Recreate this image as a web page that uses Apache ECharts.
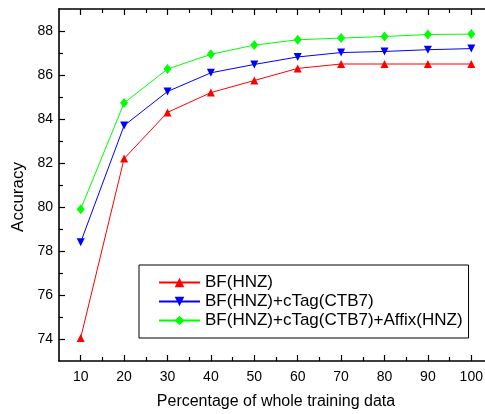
<!DOCTYPE html>
<html>
<head>
<meta charset="utf-8">
<script src="https://cdn.jsdelivr.net/npm/echarts@6/dist/echarts.min.js"></script>
<style>
  html, body { margin: 0; padding: 0; background: #fff; }
  #chart { width: 485px; height: 414px; }
</style>
</head>
<body>
<div id="chart"></div>
<script>
// x positions (percentage of training data)
const percentages = [10, 20, 30, 40, 50, 60, 70, 80, 90, 100];

// accuracy
const bfHnz = [74.05, 82.2, 84.3, 85.2, 85.75, 86.3, 86.5, 86.5, 86.5, 86.5];
const bfCtag = [78.4, 83.7, 85.25, 86.1, 86.48, 86.82, 87.02, 87.07, 87.15, 87.2];
const bfCtagAffix = [79.9, 84.73, 86.27, 86.94, 87.36, 87.6, 87.68, 87.75, 87.84, 87.86];

// tick positions
const xMajorTicks = [10, 20, 30, 40, 50, 60, 70, 80, 90, 100];
const xMinorTicks = [15, 25, 35, 45, 55, 65, 75, 85, 95];
const yMajorTicks = [74, 76, 78, 80, 82, 84, 86, 88];
const yMinorTicks = [75, 77, 79, 81, 83, 85, 87];

const FONT = "Liberation Sans, Arial, sans-serif";
const chart = echarts.init(document.getElementById("chart"));

function pairs(values) {
  return values.map((v, i) => [percentages[i], v]);
}

function tickAxis(position, values, length, opts) {
  return Object.assign({
    type: "value",
    position,
    min: position === "bottom" || position === "top" ? 5 : 73,
    max: position === "bottom" || position === "top" ? 105 : 89,
    axisLine: { show: false },
    splitLine: { show: false },
    axisLabel: { show: false },
    axisTick: { show: true, inside: true, length, customValues: values, lineStyle: { color: "#000", width: 1.2 } }
  }, opts || {});
}

function lineSeries(name, values, color, symbol, size) {
  return {
    name,
    type: "line",
    data: pairs(values),
    symbol,
    symbolSize: size,
    lineStyle: { color, width: 1 },
    itemStyle: { color },
    animation: false
  };
}

chart.setOption({
  backgroundColor: "#fff",
  // plot frame runs past the right edge of the picture
  grid: { left: 59, top: 9, width: 434, bottom: 53, outerBoundsMode: "none", containLabel: false },
  legend: {
    orient: "vertical",
    left: 139,
    top: 265,
    padding: [8, 6, 8, 19],
    itemWidth: 41,
    itemHeight: 12,
    itemGap: 0,
    borderColor: "#000",
    borderWidth: 1,
    textStyle: { fontFamily: FONT, fontSize: 17, color: "#000", lineHeight: 19 },
    data: ["BF(HNZ)", "BF(HNZ)+cTag(CTB7)", "BF(HNZ)+cTag(CTB7)+Affix(HNZ)"]
  },
  xAxis: [
    {
      type: "value",
      position: "bottom",
      min: 5,
      max: 105,
      name: "Percentage of whole training data",
      nameLocation: "middle",
      nameGap: 33,
      nameTextStyle: { fontFamily: FONT, fontSize: 16, color: "#000" },
      axisLine: { show: true, lineStyle: { color: "#000", width: 1.6 } },
      splitLine: { show: false },
      axisTick: { show: true, inside: true, length: 6, customValues: xMajorTicks, lineStyle: { color: "#000", width: 1.2 } },
      axisLabel: { fontFamily: FONT, fontSize: 14, color: "#000", margin: 9, customValues: xMajorTicks }
    },
    tickAxis("bottom", xMinorTicks, 4),
    tickAxis("top", xMajorTicks, 6, { axisLine: { show: true, lineStyle: { color: "#000", width: 1.6 } } }),
    tickAxis("top", xMinorTicks, 4)
  ],
  yAxis: [
    {
      type: "value",
      position: "left",
      min: 73,
      max: 89,
      name: "Accuracy",
      nameLocation: "middle",
      nameGap: 30,
      nameTextStyle: { fontFamily: FONT, fontSize: 17, color: "#000", padding: [0, 24, 0, 0] },
      axisLine: { show: true, lineStyle: { color: "#000", width: 1.6 } },
      splitLine: { show: false },
      axisTick: { show: true, inside: true, length: 6, customValues: yMajorTicks, lineStyle: { color: "#000", width: 1.2 } },
      axisLabel: { fontFamily: FONT, fontSize: 14, color: "#000", margin: 6, customValues: yMajorTicks }
    },
    tickAxis("left", yMinorTicks, 4),
    tickAxis("right", yMajorTicks, 6, { axisLine: { show: true, lineStyle: { color: "#000", width: 1.6 } } })
  ],
  series: [
    lineSeries("BF(HNZ)", bfHnz, "#ff0000", "triangle", 8),
    lineSeries("BF(HNZ)+cTag(CTB7)", bfCtag, "#0000ff", "path://M0,0 L10,0 L5,9 Z", 8),
    lineSeries("BF(HNZ)+cTag(CTB7)+Affix(HNZ)", bfCtagAffix, "#00ff00", "diamond", [8, 10])
  ]
});
</script>
</body>
</html>
